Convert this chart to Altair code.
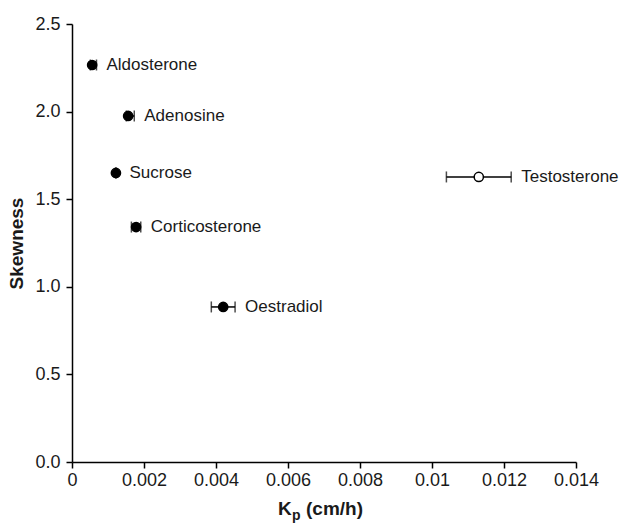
import altair as alt
import pandas as pd

# ---- data ----
compounds = ["Aldosterone", "Adenosine", "Sucrose", "Corticosterone", "Oestradiol", "Testosterone"]
kp = [0.00056, 0.00156, 0.00122, 0.00178, 0.0042, 0.0113]
kp_err_lo = [0.00005, 0.00005, 0.0, 0.00013, 0.00033, 0.0009]
kp_err_hi = [0.00012, 0.00017, 0.0, 0.00013, 0.00033, 0.0009]
skewness = [2.266, 1.975, 1.65, 1.341, 0.885, 1.627]
marker = ["filled", "filled", "filled", "filled", "filled", "open"]

x_ticks = [0, 0.002, 0.004, 0.006, 0.008, 0.01, 0.012, 0.014]
y_ticks = [0.0, 0.5, 1.0, 1.5, 2.0, 2.5]

df = pd.DataFrame({
    "name": compounds,
    "kp": kp,
    "elo": kp_err_lo,
    "ehi": kp_err_hi,
    "skew": skewness,
    "marker": marker,
})

FONT = "Liberation Sans"
INK = "#1a1a1a"
W, H = 504, 438

xscale = alt.Scale(domain=[0, 0.014], nice=False, zero=True)
yscale = alt.Scale(domain=[0, 2.5], nice=False)

xaxis = alt.Axis(values=x_ticks, labelExpr="format(datum.value, '~g')", title=None,
                 labelFontSize=18, labelPadding=3, labelFlush=False, labelOverlap=False)
yaxis = alt.Axis(values=y_ticks, format=".1f", title="Skewness", titleFontSize=19,
                 titleFontWeight="bold", titlePadding=8, labelFontSize=18, labelPadding=6,
                 labelFlush=False, labelOverlap=False)

base = alt.Chart(df).transform_calculate(
    lo="datum.kp - datum.elo",
    hi="datum.kp + datum.ehi",
    lab="max(datum.kp + datum.ehi, datum.kp + 0.0001)",
)

bars = base.mark_rule(color="black", strokeWidth=1.5).encode(
    x=alt.X("lo:Q", scale=xscale, axis=xaxis),
    x2="hi:Q",
    y=alt.Y("skew:Q", scale=yscale, axis=yaxis),
)
cap_lo = base.mark_tick(color="black", orient="vertical", size=11, thickness=1.5).encode(
    x=alt.X("lo:Q", scale=xscale), y=alt.Y("skew:Q", scale=yscale)
)
cap_hi = base.mark_tick(color="black", orient="vertical", size=11, thickness=1.5).encode(
    x=alt.X("hi:Q", scale=xscale), y=alt.Y("skew:Q", scale=yscale)
)
points = base.mark_point(filled=False, shape="circle", size=85, stroke="black",
                         strokeWidth=1.5, opacity=1).encode(
    x=alt.X("kp:Q", scale=xscale),
    y=alt.Y("skew:Q", scale=yscale),
    fill=alt.Fill("marker:N", scale=alt.Scale(domain=["filled", "open"], range=["black", "white"]),
                  legend=None),
)
labels = base.mark_text(align="left", baseline="middle", dx=10, font=FONT, fontSize=17,
                        color=INK).encode(
    x=alt.X("lab:Q", scale=xscale),
    y=alt.Y("skew:Q", scale=yscale),
    text="name:N",
)

t_k = alt.Chart(pd.DataFrame({"t": ["K"]})).mark_text(
    align="left", baseline="alphabetic", font=FONT, fontSize=19, fontWeight="bold", color=INK
).encode(text="t:N", x=alt.value(206), y=alt.value(491))
t_p = alt.Chart(pd.DataFrame({"t": ["p"]})).mark_text(
    align="left", baseline="alphabetic", font=FONT, fontSize=14, fontWeight="bold", color=INK
).encode(text="t:N", x=alt.value(220), y=alt.value(496))
t_u = alt.Chart(pd.DataFrame({"t": ["(cm/h)"]})).mark_text(
    align="left", baseline="alphabetic", font=FONT, fontSize=19, fontWeight="bold", color=INK
).encode(text="t:N", x=alt.value(234), y=alt.value(491))

chart = alt.layer(bars, cap_lo, cap_hi, points, labels, t_k, t_p, t_u).properties(
    width=W, height=H,
    padding={"left": 72, "top": 24, "right": 46, "bottom": 64},
    autosize=alt.AutoSizeParams(type="none"),
).configure_view(stroke=None).configure_axis(
    grid=False, domainColor="black", domainWidth=1.5, tickColor="black", tickWidth=1.5,
    tickSize=6, labelFont=FONT, titleFont=FONT, labelColor=INK, titleColor=INK,
)

chart.save("out.html", embed_options={"renderer": "svg", "actions": False})
